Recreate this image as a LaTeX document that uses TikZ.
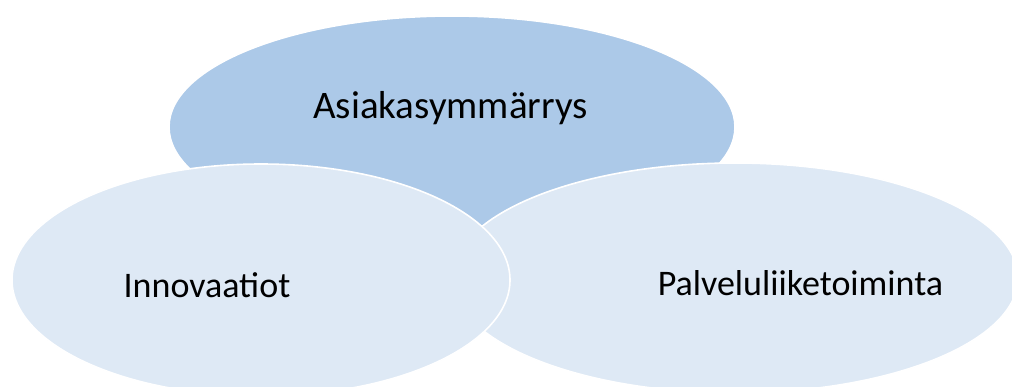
\documentclass[tikz,border=0pt]{standalone}
\usepackage{fontspec}
\setmainfont{Carlito}
\usetikzlibrary{shapes.geometric}
\definecolor{topfill}{RGB}{172,201,232}
\definecolor{lowfill}{RGB}{222,233,245}
\tikzset{
  blob/.style={ellipse, draw=white, line width=1.6pt, inner sep=0pt, outer sep=0pt},
  label/.style={anchor=base, inner sep=0pt, text=black}
}
\begin{document}
\begin{tikzpicture}[x=1pt, y=-1pt]
  \clip (0,0) rectangle (1012,386);
  \useasboundingbox (0,0) rectangle (1012,386);
  % three overlapping ovals, back to front
  \node[blob, fill=topfill, minimum width=566pt, minimum height=222pt] (top) at (452,127) {};
  \node[blob, fill=lowfill, minimum width=566pt, minimum height=230pt] (right) at (735,278) {};
  \node[blob, fill=lowfill, minimum width=498pt, minimum height=232pt] (left) at (261,280) {};
  % captions
  \node[label, font=\fontsize{39}{47}\selectfont] (ttop) at (450.5,118) {Asiakasymmärrys};
  \node[label, font=\fontsize{36}{43}\selectfont] (tleft) at (207,297) {Innovaatiot};
  \node[label, font=\fontsize{36}{43}\selectfont] (tright) at (800.5,295) {Palveluliiketoiminta};
\end{tikzpicture}
\end{document}
